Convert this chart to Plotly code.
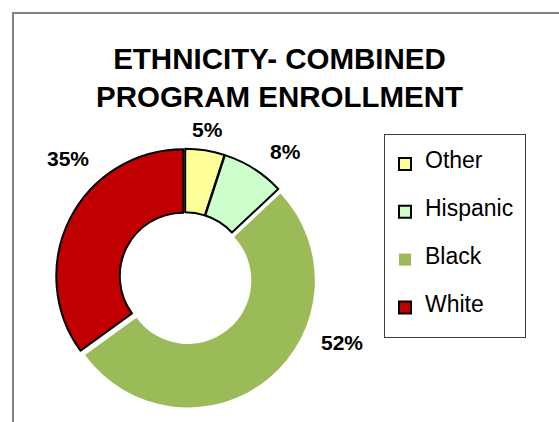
import plotly.graph_objects as go

W, H = 559, 422

groups = ['Other', 'Hispanic', 'Black', 'White']
shares = [5, 8, 52, 35]
slice_colors = ['#FFFF99', '#CCFFCC', '#9BBB59', '#C00000']
edge_colors = ['#000000', '#000000', '#9BBB59', '#000000']
edge_widths = [2, 2, 0, 2]
pulls = [0.01, 0.01, 0.035, 0.015]

# where Excel put the percent labels (pixels from top-left)
label_px = [(207, 129), (285, 152), (342, 342), (68, 158)]

font = 'Arial, Liberation Sans, sans-serif'

# pie geometry: centre and outer radius in pixels
cx, cy, r = 185, 277, 127
half = r * (1 + max(pulls))

fig = go.Figure(go.Pie(
    labels=['<br><span style="font-size:23px">%s&nbsp;</span><br>' % g for g in groups],
    values=shares,
    sort=False,
    direction='clockwise',
    rotation=0,
    hole=0.5,
    pull=pulls,
    marker=dict(colors=slice_colors, line=dict(color=edge_colors, width=edge_widths)),
    textinfo='none',
    hoverinfo='label+percent',
    domain=dict(x=[(cx - half) / W, (cx + half) / W],
                y=[(H - cy - half) / H, (H - cy + half) / H]),
))

for v, (px, py) in zip(shares, label_px):
    fig.add_annotation(x=px / W, y=1 - py / H, xref='paper', yref='paper',
                       xanchor='center', yanchor='middle',
                       text='<b>%d%%</b>' % v, showarrow=False,
                       font=dict(family=font, size=21, color='#000000'))

# outer chart border (runs off the right and bottom edges)
fig.add_shape(type='rect', xref='paper', yref='paper',
              x0=13 / W, x1=1.02, y0=-0.05, y1=1 - 13 / H,
              line=dict(color='#808080', width=2))

fig.update_layout(
    width=W, height=H,
    margin=dict(l=0, r=0, t=0, b=0),
    paper_bgcolor='white', plot_bgcolor='white',
    font=dict(family=font, color='#000000'),
    title=dict(text='<b>ETHNICITY- COMBINED<br>PROGRAM ENROLLMENT</b>',
               x=0.5, xanchor='center', y=1 - 69 / H, yanchor='top',
               font=dict(family=font, size=29.5, color='#000000')),
    legend=dict(x=384 / W, y=1 - 134 / H, xanchor='left', yanchor='top',
                bordercolor='#404040', borderwidth=1, bgcolor='white',
                font=dict(family=font, size=11.5, color='#000000')),
    showlegend=True,
)

fig.write_html('out.html', config={'displayModeBar': False},
               post_script="document.body.style.margin='0';")
